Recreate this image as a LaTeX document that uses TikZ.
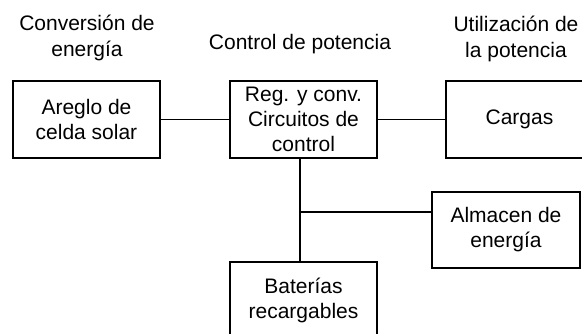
\documentclass[tikz,border=0pt]{standalone}
\usepackage{fontspec}
\setmainfont{Liberation Sans}
\begin{document}
\begin{tikzpicture}[x=1pt,y=-1pt,
  blk/.style={draw, line width=1.4pt, minimum width=147pt, minimum height=77pt, align=center, inner sep=0pt,
    font=\fontsize{21}{25}\selectfont},
  hdr/.style={align=center, inner sep=0pt, font=\fontsize{21}{26.5}\selectfont},
  wire/.style={line width=1.4pt}]
\useasboundingbox (0,0) rectangle (582,334);
\clip (0,0) rectangle (582,334);
\node[hdr] (h1) at (87,38) {Conversión de\\energía};
\node[hdr] (h2) at (300,44) {Control de potencia};
\node[hdr] (h3) at (516,39) {Utilización de\\la potencia};
\node[blk] (sol) at (86.5,119.5) {Areglo de\\celda solar};
\node[blk] (reg) at (303.5,119.5) {Reg. y conv.\\Circuitos de\\control};
\node[blk] (car) at (519.5,119.5) {Cargas};
\node[blk, minimum width=148pt, minimum height=76pt] (alm) at (506,230) {Almacen de\\energía};
\node[blk] (bat) at (303.5,300.5) {Baterías\\recargables};
\coordinate (top) at (300,158);
\coordinate (jn) at (300,212);
\coordinate (bot) at (300,262);
\draw[wire] (sol) -- (reg);
\draw[wire] (reg) -- (car);
\draw[wire] (top) -- (jn) -- (bot);
\draw[wire] (jn) -- (alm.west |- jn);
\end{tikzpicture}
\end{document}
